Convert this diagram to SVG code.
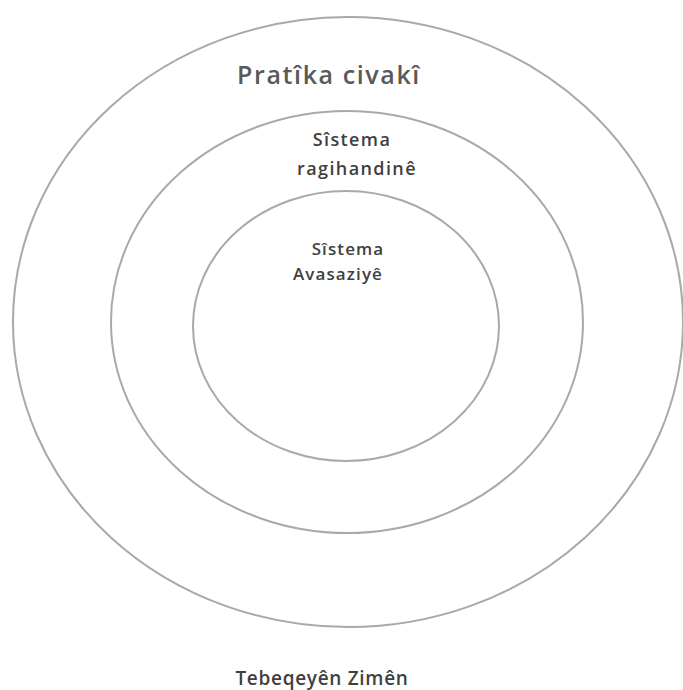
<svg xmlns="http://www.w3.org/2000/svg" width="683" height="690" viewBox="0 0 683 690">
<style>
.ring{fill:none;stroke:#a9a9a9;stroke-width:2}
.t{font-family:"Open Sans","Noto Sans","Liberation Sans",sans-serif;font-weight:600;fill:#404040;text-anchor:middle}
.big{font-size:25px;fill:#595959;letter-spacing:1.6px}
.mid{font-size:18px;letter-spacing:1.4px}
.inn{font-size:17px;letter-spacing:1.1px}
.bot{font-size:19px;letter-spacing:0.7px}
</style>
<rect width="683" height="690" fill="#fff"/>
<g id="outer">
<ellipse class="ring" cx="348" cy="322" rx="335" ry="305"/>
<text class="t big" x="329" y="84">Pratîka civakî</text>
</g>
<g id="middle">
<ellipse class="ring" cx="347" cy="322" rx="236" ry="211"/>
<text class="t mid" x="352" y="146">Sîstema</text>
<text class="t mid" x="357" y="175">ragihandinê</text>
</g>
<g id="inner">
<ellipse class="ring" cx="346" cy="326" rx="153" ry="135"/>
<text class="t inn" x="348" y="255">Sîstema</text>
<text class="t inn" x="338" y="280">Avasaziyê</text>
</g>
<g id="connectors"></g>
<g id="base">
<text class="t bot" x="322" y="685">Tebeqeyên Zimên</text>
</g>
</svg>
